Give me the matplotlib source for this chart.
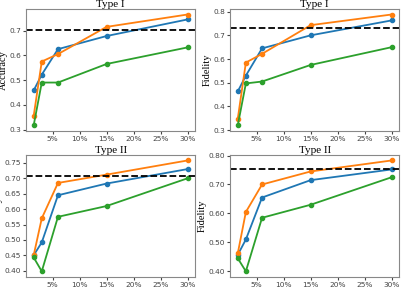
import matplotlib
matplotlib.use("Agg")
import matplotlib.pyplot as plt
from matplotlib.ticker import FuncFormatter

budgets = [1.5, 3, 6, 15, 30]
xticks = [5, 10, 15, 20, 25, 30]

# Type I
acc1_blue = [0.458, 0.522, 0.625, 0.678, 0.745]
acc1_orange = [0.355, 0.575, 0.605, 0.715, 0.765]
acc1_green = [0.317, 0.490, 0.490, 0.565, 0.632]
acc1_ref = 0.703

fid1_blue = [0.463, 0.530, 0.645, 0.700, 0.763]
fid1_orange = [0.348, 0.585, 0.622, 0.743, 0.788]
fid1_green = [0.320, 0.497, 0.505, 0.575, 0.650]
fid1_ref = 0.733

# Type II
acc2_blue = [0.450, 0.492, 0.645, 0.683, 0.730]
acc2_orange = [0.450, 0.570, 0.685, 0.712, 0.758]
acc2_green = [0.443, 0.398, 0.575, 0.610, 0.700]
acc2_ref = 0.709

fid2_blue = [0.457, 0.510, 0.655, 0.715, 0.752]
fid2_orange = [0.462, 0.605, 0.700, 0.745, 0.783]
fid2_green = [0.445, 0.400, 0.585, 0.630, 0.725]
fid2_ref = 0.755

panels = [
    ("Type I", "Accuracy", acc1_blue, acc1_orange, acc1_green, acc1_ref, "%.1f"),
    ("Type I", "Fidelity", fid1_blue, fid1_orange, fid1_green, fid1_ref, "%.1f"),
    ("Type II", "Accuracy", acc2_blue, acc2_orange, acc2_green, acc2_ref, "%.2f"),
    ("Type II", "Fidelity", fid2_blue, fid2_orange, fid2_green, fid2_ref, "%.2f"),
]

serif = "Liberation Serif"

fig, axes = plt.subplots(2, 2, figsize=(4.19, 2.89), dpi=100)
fig.subplots_adjust(left=0.062, right=0.953, top=0.969, bottom=0.042, wspace=0.206, hspace=0.197)

for ax, (title, ylabel, b, o, g, ref, fmt) in zip(axes.flat, panels):
    ax.plot(budgets, b, marker="o", ms=3, lw=1.3, color="#1f77b4")
    ax.plot(budgets, o, marker="o", ms=3, lw=1.3, color="#ff7f0e")
    ax.plot(budgets, g, marker="o", ms=3, lw=1.3, color="#2ca02c")
    ax.axhline(ref, color="black", ls="--", lw=1.3)
    ax.set_title(title, fontsize=8, pad=1.5, family=serif)
    ax.set_ylabel(ylabel, fontsize=7.5, labelpad=1, family=serif)
    ax.set_xticks(xticks)
    ax.xaxis.set_major_formatter(FuncFormatter(lambda v, p: "%d%%" % v))
    ax.yaxis.set_major_formatter(FuncFormatter(lambda v, p, f=fmt: f % v))
    ax.tick_params(labelsize=5.3, length=2, pad=1.5, colors="#444444")
    for s in ax.spines.values():
        s.set_color("#888888")

fig.savefig("out.png")
